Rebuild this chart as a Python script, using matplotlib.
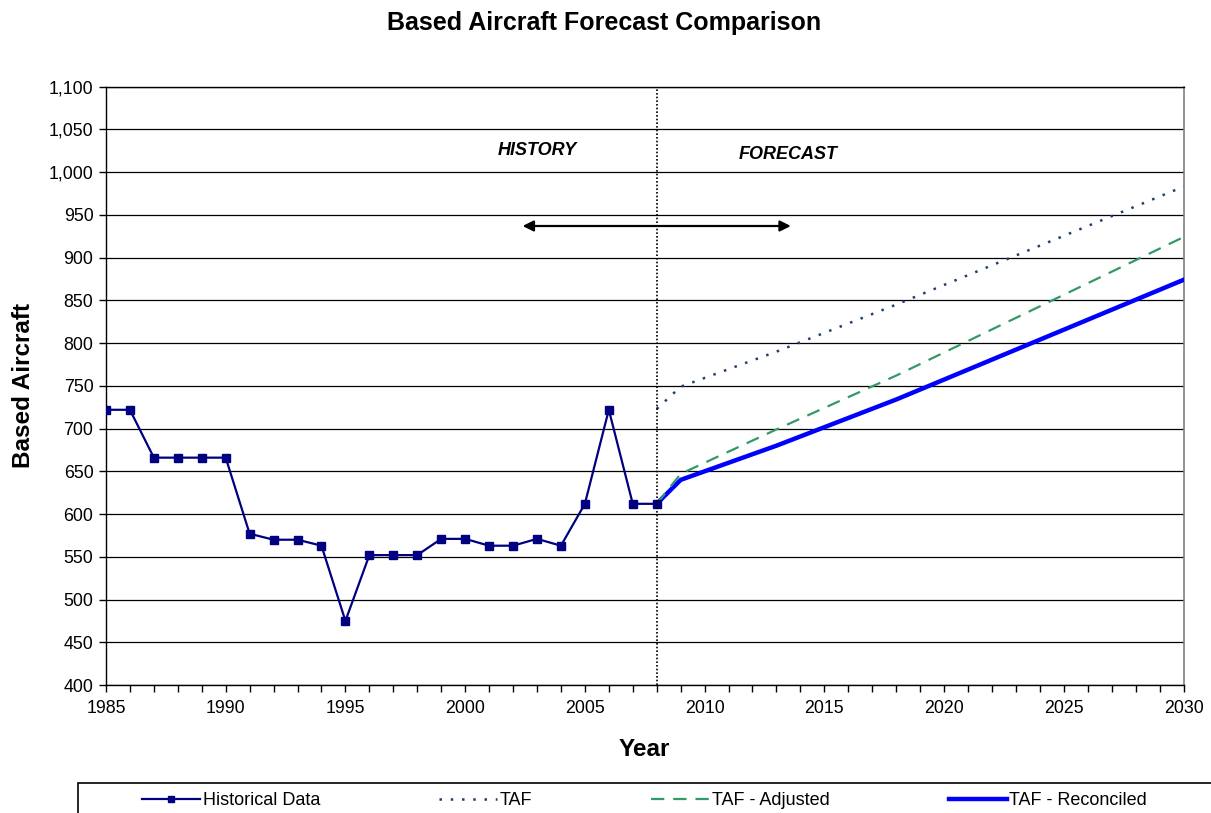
import matplotlib
matplotlib.use("Agg")
import matplotlib.pyplot as plt
from matplotlib.ticker import MultipleLocator, FuncFormatter
from matplotlib.patches import Rectangle

plt.rcParams['font.family'] = ['Liberation Sans', 'DejaVu Sans']

# ---- data ----
hist_years = list(range(1985, 2009))
hist_values = [722, 722, 666, 666, 666, 666, 577, 570, 570, 563, 475, 552,
               552, 552, 571, 571, 563, 563, 571, 563, 612, 722, 612, 612]

fc_years = [2008, 2009, 2013, 2018, 2030]
taf_values = [723, 749, 790, 845, 983]
taf_adjusted = [612, 647, 699, 762, 924]
taf_reconciled = [612, 640, 680, 734, 874]

series_labels = ["Historical Data", "TAF", "TAF - Adjusted", "TAF - Reconciled"]
title = "Based Aircraft Forecast Comparison"

# ---- figure ----
fig = plt.figure(figsize=(12.11, 8.13), dpi=100)
ax = fig.add_axes([0.0875, 0.1574, 0.8898, 0.736])

ax.set_xlim(1985, 2030)
ax.set_ylim(400, 1100)

ax.yaxis.set_major_locator(MultipleLocator(50))
ax.xaxis.set_major_locator(MultipleLocator(5))
ax.xaxis.set_minor_locator(MultipleLocator(1))
ax.yaxis.set_major_formatter(FuncFormatter(lambda v, p: f"{int(v):,}"))
ax.grid(axis='y', color='black', linewidth=0.9, zorder=0)

ax.tick_params(axis='both', which='both', direction='out', length=5, width=1,
               color='black', labelsize=12.8)
ax.tick_params(axis='x', pad=6)
ax.tick_params(axis='y', pad=4)

for s in ['left', 'bottom', 'top']:
    ax.spines[s].set_color('black')
    ax.spines[s].set_linewidth(1)
ax.spines['right'].set_color('#808080')
ax.spines['right'].set_linewidth(1.2)

l_rec, = ax.plot(fc_years, taf_reconciled, color='#0000FF', linewidth=3.2,
                 solid_joinstyle='round', zorder=3)
l_adj, = ax.plot(fc_years, taf_adjusted, color='#339966', linewidth=1.6,
                 linestyle=(0, (6, 4)), zorder=3)
l_taf, = ax.plot(fc_years, taf_values, color='#1F3F70', linewidth=1.8,
                 linestyle=(0, (1, 3.5)), zorder=3)
l_hist, = ax.plot(hist_years, hist_values, color='#000080', linewidth=1.6,
                  marker='s', markersize=6, markerfacecolor='#000080',
                  markeredgecolor='#000080', zorder=4)

ax.axvline(2008, color='black', linewidth=1.2, linestyle=(0, (1, 1.2)), zorder=5)

ax.annotate('', xy=(2002.4, 937), xytext=(2013.6, 937),
            arrowprops=dict(arrowstyle='<|-|>', color='black', lw=1.6,
                            mutation_scale=16, shrinkA=0, shrinkB=0))
ax.text(2003.0, 1025, 'HISTORY', fontsize=13, fontweight='bold',
        fontstyle='italic', ha='center', va='center')
ax.text(2013.5, 1021, 'FORECAST', fontsize=13, fontweight='bold',
        fontstyle='italic', ha='center', va='center')

ax.set_xlabel('Year', fontsize=17.5, fontweight='bold', labelpad=15)
ax.set_ylabel('Based Aircraft', fontsize=17.5, fontweight='bold', labelpad=10)
fig.text(0.4985, 0.972, title, fontsize=18, fontweight='bold',
         ha='center', va='center')

# legend
leg = fig.legend([l_hist, l_taf, l_adj, l_rec], series_labels, ncol=4,
                 loc='center left', bbox_to_anchor=(0.104, 0.015),
                 frameon=False, fontsize=13, handlelength=3.2,
                 handletextpad=0.15, columnspacing=6.6, markerscale=0.7)
fig.patches.append(Rectangle((78 / 1211, -0.05), 1.0, 0.0871,
                             transform=fig.transFigure, fill=False,
                             edgecolor='black', linewidth=1.2))

fig.savefig('out.png', dpi=100)
